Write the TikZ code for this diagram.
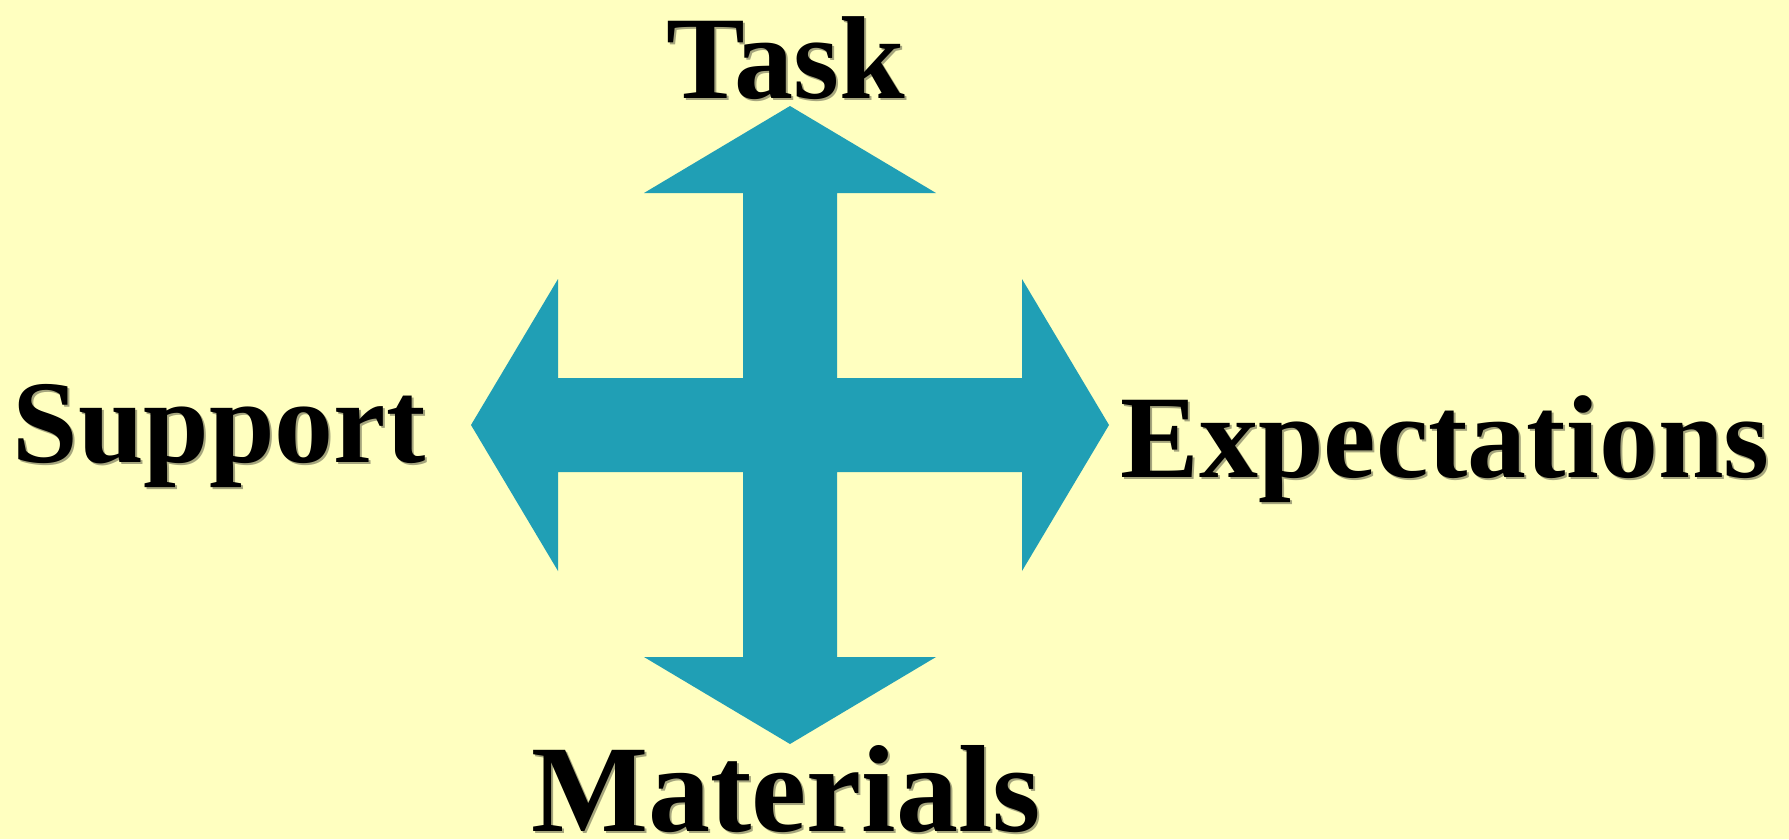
\documentclass[tikz,border=0pt]{standalone}
\usepackage{fontspec}
\setmainfont{Liberation Serif}
\definecolor{bgyellow}{RGB}{255,255,192}
\definecolor{teal}{RGB}{32,159,181}
\definecolor{shadowgray}{RGB}{165,165,125}
\begin{document}
\begin{tikzpicture}[x=1pt,y=-1pt,
  lbl/.style={font=\fontsize{118}{118}\selectfont\bfseries, inner sep=0pt, anchor=base, text=black},
  big/.style={font=\fontsize{124}{124}\selectfont\bfseries},
  shd/.style={lbl, text=shadowgray}]
\fill[bgyellow] (0,0) rectangle (1789,839);
\useasboundingbox (0,0) rectangle (1789,839);
% cross with four arrowheads
\def\cx{790}\def\cy{425}
\def\tp{319}\def\bs{232}\def\hw{146}\def\sw{47}
\fill[teal]
  (\cx,\cy-\tp) -- (\cx+\hw,\cy-\bs) -- (\cx+\sw,\cy-\bs) -- (\cx+\sw,\cy-\sw)
  -- (\cx+\bs,\cy-\sw) -- (\cx+\bs,\cy-\hw) -- (\cx+\tp,\cy) -- (\cx+\bs,\cy+\hw)
  -- (\cx+\bs,\cy+\sw) -- (\cx+\sw,\cy+\sw) -- (\cx+\sw,\cy+\bs) -- (\cx+\hw,\cy+\bs)
  -- (\cx,\cy+\tp) -- (\cx-\hw,\cy+\bs) -- (\cx-\sw,\cy+\bs) -- (\cx-\sw,\cy+\sw)
  -- (\cx-\bs,\cy+\sw) -- (\cx-\bs,\cy+\hw) -- (\cx-\tp,\cy) -- (\cx-\bs,\cy-\hw)
  -- (\cx-\bs,\cy-\sw) -- (\cx-\sw,\cy-\sw) -- (\cx-\sw,\cy-\hw) -- (\cx-\sw,\cy-\bs)
  -- (\cx-\hw,\cy-\bs) -- cycle;
% shadows
\node[shd] (taskS) at (788,100) {Task};
\node[shd] (supportS) at (221,464) {Support};
\node[shd] (expS) at (1447,479) {Expectations};
\node[shd,big] (matS) at (788,833) {Materials};
% labels
\node[lbl] (task) at (786,98) {Task};
\node[lbl] (support) at (219,462) {Support};
\node[lbl] (exp) at (1445,477) {Expectations};
\node[lbl,big] (mat) at (786,831) {Materials};
\end{tikzpicture}
\end{document}
